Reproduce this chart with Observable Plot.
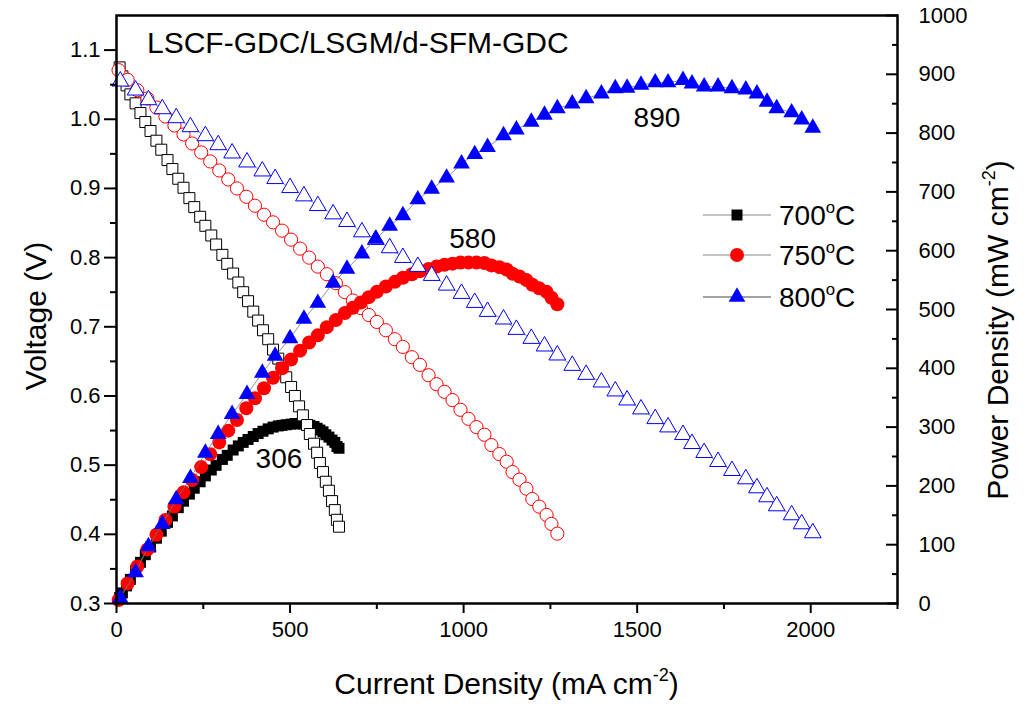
<!DOCTYPE html>
<html><head><meta charset="utf-8">
<script src="https://cdn.jsdelivr.net/npm/d3@7"></script>
<script src="https://cdn.jsdelivr.net/npm/@observablehq/plot@0.6"></script>
<style>
body{margin:0;background:#fff;}
#chart{position:relative;width:1029px;height:707px;}
</style></head><body><div id="chart"></div>
<script>
// ---- data ----
const i700 = [9,17,29,40,55,69,83,98,115,129,147,161,178,193,210,224,241,256,273,287,305,319,336,351,365,379,394,408,422,437,451,466,477,489,503,514,526,537,549,557,569,578,586,595,603,612,621,629,635,641];
const v700 = [1.075,1.062,1.049,1.036,1.023,1.009,0.996,0.983,0.969,0.956,0.941,0.928,0.914,0.901,0.886,0.873,0.859,0.846,0.832,0.819,0.804,0.791,0.777,0.764,0.750,0.737,0.722,0.709,0.695,0.682,0.667,0.654,0.640,0.627,0.613,0.600,0.585,0.572,0.558,0.545,0.531,0.518,0.503,0.490,0.476,0.463,0.448,0.435,0.421,0.411];
const p700 = [10,18,30,41,56,70,83,96,111,123,138,149,163,174,186,196,207,217,227,235,245,252,261,268,274,279,284,289,293,297,300,302,303,304,305,306,306,305,304,303,301,298,295,292,287,283,278,274,267,264];

const i750 = [6,32,60,89,115,141,167,193,218,244,270,296,322,347,374,399,425,451,477,503,529,555,580,606,632,658,681,704,727,750,776,802,825,851,874,899,922,945,968,991,1014,1037,1060,1080,1103,1124,1141,1161,1181,1198,1218,1239,1253,1270];
const v750 = [1.071,1.057,1.042,1.030,1.017,1.004,0.991,0.978,0.965,0.952,0.939,0.926,0.913,0.900,0.888,0.875,0.862,0.851,0.839,0.826,0.813,0.800,0.787,0.776,0.763,0.750,0.738,0.727,0.717,0.707,0.695,0.682,0.671,0.656,0.645,0.630,0.617,0.606,0.594,0.580,0.567,0.555,0.544,0.529,0.516,0.505,0.490,0.479,0.466,0.451,0.440,0.428,0.415,0.401];
const p750 = [6,34,63,92,117,142,165,189,210,232,254,274,294,312,332,349,366,384,400,415,430,444,456,470,482,494,503,512,521,530,539,547,554,560,565,569,573,576,578,580,580,580,579,575,572,568,561,556,550,542,536,530,520,509];

const i800 = [11,55,92,132,172,213,256,293,333,376,420,457,500,540,580,624,664,707,747,787,825,868,908,951,994,1032,1069,1115,1152,1195,1233,1270,1313,1353,1397,1437,1471,1511,1552,1589,1632,1658,1693,1733,1773,1813,1845,1874,1902,1945,1974,2006];
const v800 = [1.055,1.042,1.028,1.015,1.002,0.989,0.976,0.963,0.951,0.938,0.925,0.914,0.901,0.889,0.875,0.863,0.852,0.837,0.826,0.814,0.800,0.787,0.774,0.760,0.748,0.735,0.722,0.711,0.696,0.683,0.672,0.659,0.644,0.631,0.620,0.607,0.594,0.581,0.567,0.555,0.544,0.531,0.518,0.505,0.492,0.480,0.467,0.454,0.441,0.428,0.415,0.402];
const p800 = [9,53,97,135,177,213,256,288,322,356,392,421,451,484,511,545,569,595,620,642,660,687,705,724,748,764,776,796,806,819,831,842,850,859,867,876,877,882,886,886,890,884,879,879,876,874,867,853,842,835,823,809];

const seriesNames = ["700", "750", "800"];
const seriesColors = ["#000000", "#ff0000", "#0000ff"];
const seriesSymbols = ["square", "circle", "triangle"];

const peakI = [468, 1026, 1557];
const peakP = [245, 620, 826];
const peakText = ["306", "580", "890"];

const xTicks = [0, 500, 1000, 1500, 2000];
const xMinor = [250, 750, 1250, 1750, 2250];
const vTicks = [0.3, 0.4, 0.5, 0.6, 0.7, 0.8, 0.9, 1.0, 1.1];
const vMinor = [0.35, 0.45, 0.55, 0.65, 0.75, 0.85, 0.95, 1.05];
const pTicks = [0, 100, 200, 300, 400, 500, 600, 700, 800, 900, 1000];
const pMinor = [50, 150, 250, 350, 450, 550, 650, 750, 850, 950];

// ---- scales ----
const V0 = 0.3, V1 = 1.15, P1 = 1000;
const toV = p => V0 + p * (V1 - V0) / P1;          // power -> left-axis units
const fromV = v => String(Math.round((v - V0) * P1 / (V1 - V0)));

const I = [i700, i750, i800], V = [v700, v750, v800], P = [p700, p750, p800];
const vData = I.map((arr, k) => arr.map((x, j) => ({I: x, y: V[k][j]})));
const pData = I.map((arr, k) => arr.map((x, j) => ({I: x, y: toV(P[k][j])})));

const sizes = {square: 6.2, circle: 7, triangle: 6.2};
const hollowSizes = {square: 6.2, circle: 6.6, triangle: 6.2};

function powerMarks(k) {
  return [
    Plot.line(pData[k], {x: "I", y: "y", stroke: "#777", strokeWidth: 0.8}),
    Plot.dot(pData[k], {x: "I", y: "y", symbol: seriesSymbols[k], r: sizes[seriesSymbols[k]], fill: seriesColors[k], stroke: "none"})
  ];
}
function voltMarks(k) {
  return [
    Plot.line(vData[k], {x: "I", y: "y", stroke: "#777", strokeWidth: 0.8}),
    Plot.dot(vData[k], {x: "I", y: "y", symbol: seriesSymbols[k], r: hollowSizes[seriesSymbols[k]], fill: "white", stroke: seriesColors[k], strokeWidth: 1})
  ];
}

const FONT = "'Liberation Sans', Arial, Helvetica, sans-serif";
const W = 1029, H = 707, ML = 116, MR = 132, MT = 15, MB = 104;

const plot = Plot.plot({
  width: W, height: H,
  marginLeft: ML, marginRight: MR, marginTop: MT, marginBottom: MB,
  x: {domain: [0, 2250]},
  y: {domain: [V0, V1]},
  style: {fontFamily: FONT, fontSize: "22px", color: "black", background: "white", overflow: "visible"},
  marks: [
    ...powerMarks(0), ...voltMarks(0),
    ...voltMarks(1), ...powerMarks(1),
    ...voltMarks(2), ...powerMarks(2),
    Plot.text(peakText, {x: (d, i) => peakI[i], y: (d, i) => toV(peakP[i]), text: d => d, fontSize: 28, fill: "black"}),
    Plot.axisX({ticks: xTicks, tickSize: 10, tickPadding: 8, strokeWidth: 2, tickFormat: d => String(d), label: null, fontSize: 22}),
    Plot.axisX({ticks: xMinor, tickSize: 6, strokeWidth: 2, text: null, label: null}),
    Plot.axisY({anchor: "left", ticks: vTicks, tickSize: 12, tickPadding: 4, strokeWidth: 2, tickFormat: d3.format(".1f"), label: null, fontSize: 22}),
    Plot.axisY({anchor: "left", ticks: vMinor, tickSize: 6, strokeWidth: 2, text: null, label: null}),
    Plot.axisY({anchor: "right", ticks: pTicks.map(toV), tickSize: -12, tickPadding: 33, strokeWidth: 2, tickFormat: fromV, label: null, fontSize: 22}),
    Plot.axisY({anchor: "right", ticks: pMinor.map(toV), tickSize: -6, strokeWidth: 2, text: null, label: null}),
    Plot.frame({stroke: "black", strokeWidth: 2.5})
  ]
});
document.getElementById("chart").appendChild(plot);

// ---- titles, legend (text with superscripts) ----
const svg = d3.select(plot);
const g = svg.append("g").attr("font-family", FONT).attr("fill", "black").attr("text-anchor", "start");

g.append("text").attr("x", ML + 31).attr("y", MT + 38).attr("font-size", 30)
  .attr("text-anchor", "start").text("LSCF-GDC/LSGM/d-SFM-GDC");

function supLabel(sel, base, sup, tail, fs) {
  sel.append("tspan").text(base);
  sel.append("tspan").attr("font-size", fs * 0.6).attr("dy", -fs * 0.42).text(sup);
  sel.append("tspan").attr("dy", fs * 0.42).text(tail);
}

const xt = g.append("text").attr("x", ML + (W - ML - MR) / 2).attr("y", 694)
  .attr("text-anchor", "middle").attr("font-size", 30);
supLabel(xt, "Current Density (mA cm", "-2", ")", 30);

g.append("text").attr("transform", "translate(46,316) rotate(-90)")
  .attr("text-anchor", "middle").attr("font-size", 30).text("Voltage (V)");

const pt = g.append("text").attr("transform", "translate(1008,330) rotate(-90)")
  .attr("text-anchor", "middle").attr("font-size", 30);
supLabel(pt, "Power Density (mW cm", "-2", ")", 30);

// legend
const legY = [215, 255, 297];
const symMap = {square: d3.symbolSquare, circle: d3.symbolCircle, triangle: d3.symbolTriangle};
seriesNames.forEach((name, k) => {
  const y = legY[k];
  const row = g.append("g");
  row.append("line").attr("x1", 703).attr("x2", 771).attr("y1", y).attr("y2", y)
    .attr("stroke", k === 2 ? "#444" : "#888").attr("stroke-width", 1.2);
  const r = sizes[seriesSymbols[k]];
  row.append("path").attr("transform", `translate(737,${y})`)
    .attr("d", d3.symbol(symMap[seriesSymbols[k]], Math.PI * r * r)())
    .attr("fill", seriesColors[k]);
  const t = row.append("text").attr("x", 779).attr("y", y + 10).attr("font-size", 28)
    .attr("text-anchor", "start");
  supLabel(t, name, "o", "C", 28);
});
</script>
</body></html>
